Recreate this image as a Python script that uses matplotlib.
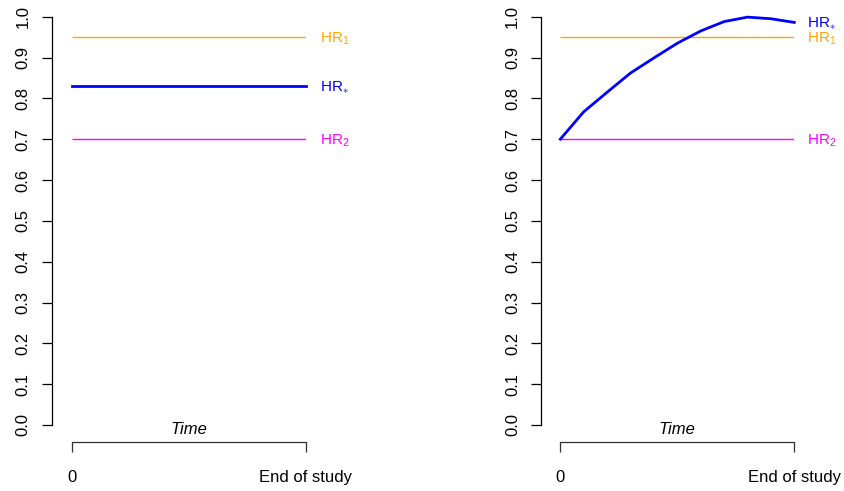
import matplotlib
matplotlib.use("Agg")
import matplotlib.pyplot as plt

plt.rcParams['font.family'] = ['Liberation Sans', 'DejaVu Sans']
plt.rcParams['mathtext.fontset'] = 'custom'
plt.rcParams['mathtext.rm'] = 'Liberation Sans'
plt.rcParams['mathtext.it'] = 'Liberation Sans:italic'

# data
hr1 = 0.95
hr2 = 0.70
hr_star_const = 0.83
time_pts = [0.0, 0.1, 0.2, 0.3, 0.4, 0.5, 0.6, 0.7, 0.8, 0.9, 1.0]
hr_star_curve = [0.70, 0.767, 0.815, 0.862, 0.899, 0.935, 0.965, 0.988, 0.999, 0.995, 0.986]
yticks = [0.0, 0.1, 0.2, 0.3, 0.4, 0.5, 0.6, 0.7, 0.8, 0.9, 1.0]
xtick_labels = ["0", "End of study"]

ORANGE = "#FFA500"
BLUE = "#0000FF"
MAGENTA = "#FF00FF"

W, H = 844, 491
fig = plt.figure(figsize=(W / 100, H / 100), dpi=100)


def make_panel(left_px, x0_px, x1_px, star_x, star_y, label_x):
    top_px, y0_px, bottom_px = 16.7, 425.0, 441.7
    ax = fig.add_axes([left_px / W, (H - bottom_px) / H,
                       (x1_px - left_px) / W, (bottom_px - top_px) / H])
    sx = x1_px - x0_px
    sy = y0_px - top_px
    ax.set_xlim(-(x0_px - left_px) / sx, 1.0)
    ax.set_ylim(-(bottom_px - y0_px) / sy, 1.0)
    for s in ['top', 'right']:
        ax.spines[s].set_visible(False)
    ax.spines['left'].set_bounds(0, 1)
    ax.spines['bottom'].set_bounds(0, 1)
    ax.spines['left'].set_linewidth(0.9)
    ax.spines['bottom'].set_linewidth(0.9)
    ax.spines['bottom'].set_color('#333333')

    ax.set_yticks(yticks)
    ax.set_yticklabels(["%.1f" % v for v in yticks], rotation=90, va='center', fontsize=12)
    ax.set_xticks([0, 1])
    ax.set_xticklabels(xtick_labels, fontsize=12)
    ax.tick_params(axis='y', length=7.2, width=0.9, pad=8)
    ax.tick_params(axis='x', length=7.2, width=0.9, pad=13, colors='#333333', labelcolor='black')

    ax.plot([0, 1], [hr1, hr1], color=ORANGE, lw=1.0, solid_capstyle='butt')
    ax.plot([0, 1], [hr2, hr2], color=MAGENTA, lw=1.0, solid_capstyle='butt')
    ax.plot(star_x, star_y, color=BLUE, lw=2.0, clip_on=False)

    # baseline placed so the "HR" letters sit centred on the line
    off = 0.0135
    ax.text(label_x, star_y[-1] - off, r"HR$_{\ast}$", color=BLUE, fontsize=11, va='baseline', clip_on=False)
    ax.text(label_x, hr1 - off, r"HR$_1$", color=ORANGE, fontsize=11, va='baseline', clip_on=False)
    ax.text(label_x, hr2 - off, r"HR$_2$", color=MAGENTA, fontsize=11, va='baseline', clip_on=False)
    ax.text(0.5, -0.021, "Time", style='italic', fontsize=12, ha='center', va='baseline')
    return ax


make_panel(51.7, 71.5, 305.5, [0, 1], [hr_star_const, hr_star_const], 1.062)
make_panel(541.0, 560.3, 794.3, time_pts, hr_star_curve, 1.053)

fig.savefig("out.png", dpi=100)
